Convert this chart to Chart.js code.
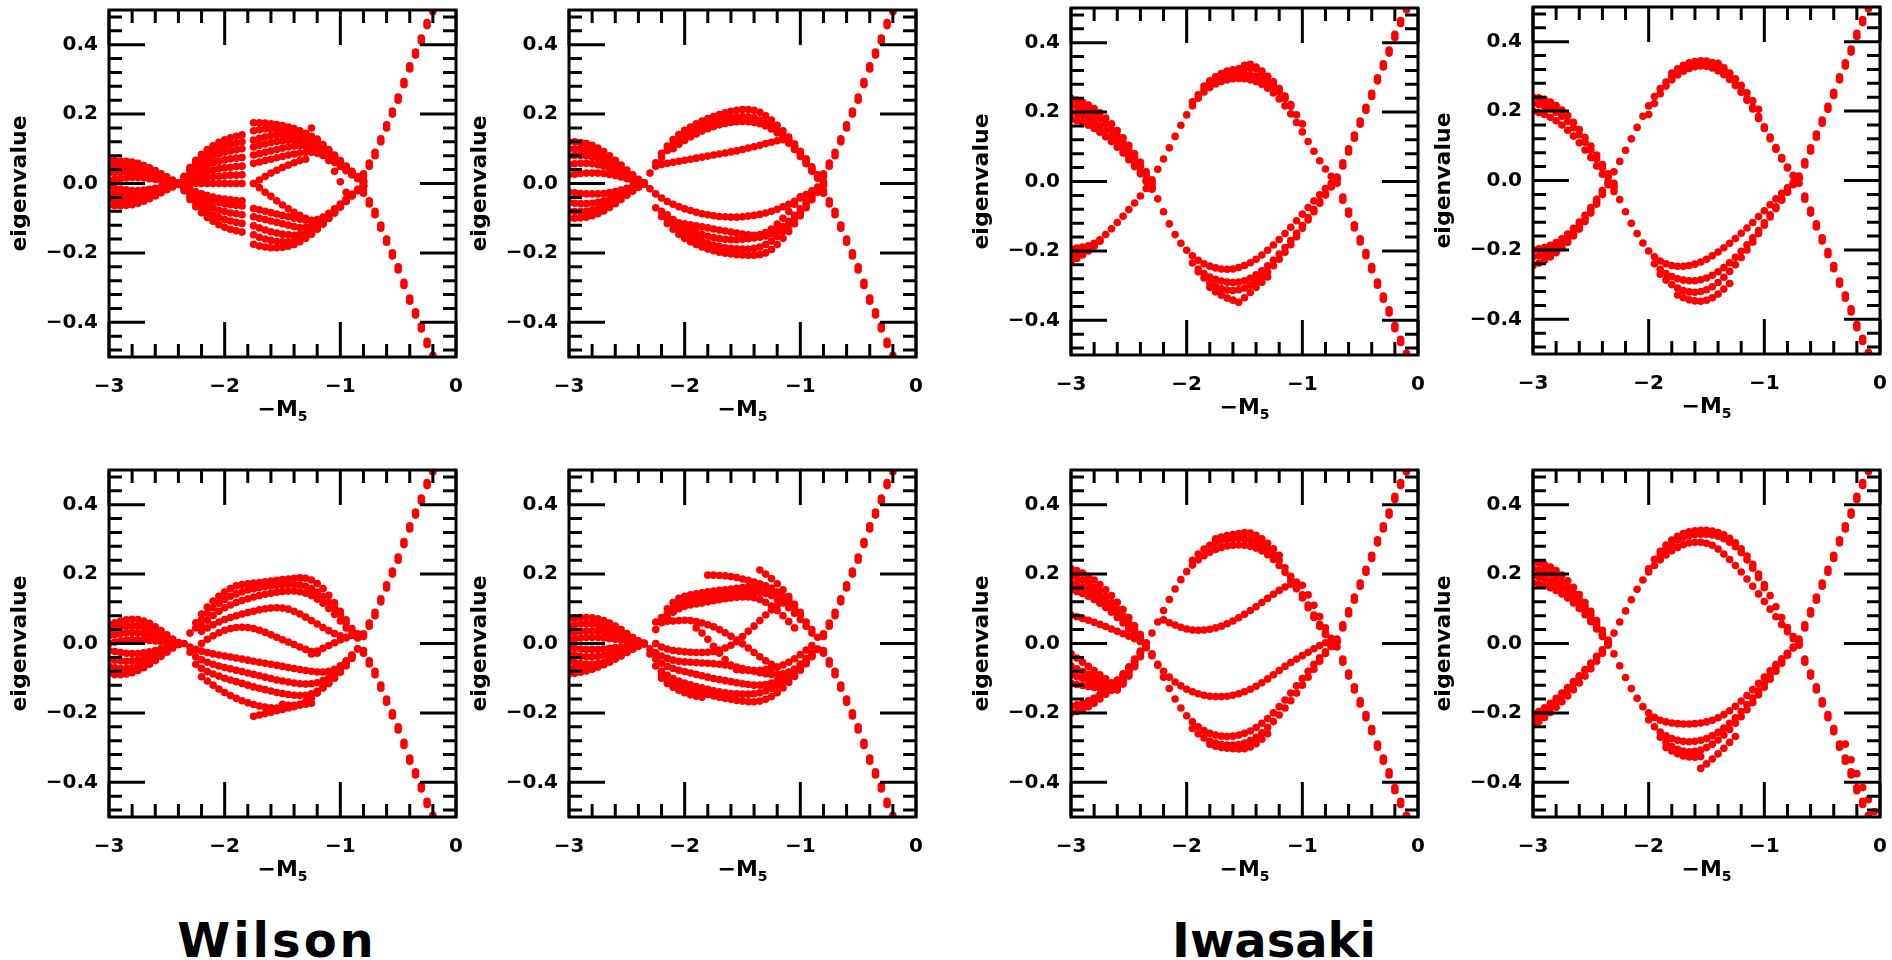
<!DOCTYPE html>
<html>
<head>
<meta charset="utf-8">
<script src="https://cdn.jsdelivr.net/npm/chart.js@4.4.1/dist/chart.umd.min.js"></script>
<style>
  html, body { margin: 0; padding: 0; background: #fff; width: 1892px; height: 960px; overflow: hidden; }
  canvas.panel { position: absolute; }
  .action { position: absolute; top: 916px; font: bold 48px "DejaVu Sans"; line-height: 48px; color: #000; transform: translateX(-50%); white-space: nowrap; }
</style>
</head>
<body>
<div class="action" style="left:277px; letter-spacing:3px">Wilson</div>
<div class="action" style="left:1274px">Iwasaki</div>

<script>
// -M5 sampling used by every eigenvalue flow
const M5 = [-3.0, -2.95, -2.9, -2.85, -2.8, -2.75, -2.7, -2.65, -2.6, -2.55, -2.5, -2.45, -2.4, -2.35, -2.3,
  -2.25, -2.2, -2.15, -2.1, -2.05, -2.0, -1.95, -1.9, -1.85, -1.8, -1.75, -1.7, -1.65, -1.6, -1.55, -1.5,
  -1.45, -1.4, -1.35, -1.3, -1.25, -1.2, -1.15, -1.1, -1.05, -1.0, -0.95, -0.9, -0.85, -0.8, -0.75, -0.7,
  -0.65, -0.6, -0.55, -0.5, -0.45, -0.4, -0.35, -0.3, -0.25, -0.2, -0.15, -0.1, -0.05]

const X_TICKS = [-3, -2, -1, 0]
const X_TICK_LABELS = ['\u22123', '\u22122', '\u22121', '0']
const X_MINOR = [-2.8, -2.6, -2.4, -2.2, -1.8, -1.6, -1.4, -1.2, -0.8, -0.6, -0.4, -0.2]
const Y_TICKS = [-0.4, -0.2, 0, 0.2, 0.4]
const Y_TICK_LABELS = ['\u22120.4', '\u22120.2', '0.0', '0.2', '0.4']
const Y_MINOR = [-0.48, -0.44, -0.36, -0.32, -0.28, -0.24, -0.16, -0.12, -0.08, -0.04,
  0.04, 0.08, 0.12, 0.16, 0.24, 0.28, 0.32, 0.36, 0.44, 0.48]

// each flow: [first -M5 value, eigenvalues on the M5 grid from there]
const WILSON_STEEP = [
  [-0.8, [0.02, 0.05, 0.08, 0.12, 0.16, 0.2, 0.24, 0.285, 0.33, 0.37, 0.41, 0.455, 0.495]],
  [-0.8, [0.028, 0.059, 0.09, 0.129, 0.169, 0.209, 0.249, 0.294, 0.339, 0.379, 0.419, 0.464, 0.504]],
  [-0.8, [-0.02, -0.05, -0.08, -0.12, -0.16, -0.2, -0.24, -0.285, -0.33, -0.37, -0.41, -0.455, -0.495]],
  [-0.8, [-0.028, -0.059, -0.09, -0.129, -0.169, -0.209, -0.249, -0.294, -0.339, -0.379, -0.419, -0.464, -0.504]]
]

const IWASAKI_STEEP = [
  [-0.7, [0.005, 0.045, 0.085, 0.125, 0.165, 0.205, 0.245, 0.29, 0.33, 0.37, 0.415, 0.455, 0.495]],
  [-0.7, [0.013, 0.054, 0.094, 0.134, 0.174, 0.214, 0.254, 0.299, 0.339, 0.379, 0.424, 0.464, 0.504]],
  [-0.65, [-0.045, -0.085, -0.125, -0.165, -0.205, -0.245, -0.29, -0.33, -0.37, -0.415, -0.455, -0.495]],
  [-0.65, [-0.054, -0.094, -0.134, -0.174, -0.214, -0.254, -0.299, -0.339, -0.379, -0.424, -0.464, -0.504]]
]

const WILSON_TOP_1 = [
  [-3.0, [0.067, 0.066, 0.065, 0.064, 0.062, 0.058, 0.052, 0.045, 0.037, 0.028, 0.019, 0.01, 0.002]],
  [-3.0, [0.05, 0.05, 0.049, 0.048, 0.046, 0.043, 0.039, 0.034, 0.028, 0.021, 0.014, 0.007, 0.001]],
  [-3.0, [0.03, 0.032, 0.033, 0.033, 0.032, 0.03, 0.027, 0.023, 0.019, 0.015, 0.01, 0.005, 0.0]],
  [-3.0, [0.01, 0.012, 0.014, 0.016, 0.017, 0.017, 0.016, 0.014, 0.012, 0.009, 0.006, 0.003, 0.0]],
  [-3.0, [-0.01, -0.013, -0.016, -0.018, -0.02, -0.02, -0.019, -0.017, -0.014, -0.011, -0.007, -0.004, -0.001]],
  [-3.0, [-0.028, -0.031, -0.033, -0.034, -0.034, -0.032, -0.029, -0.025, -0.021, -0.016, -0.011, -0.006, -0.001]],
  [-3.0, [-0.045, -0.047, -0.048, -0.048, -0.047, -0.044, -0.04, -0.035, -0.029, -0.022, -0.015, -0.008, -0.002]],
  [-3.0, [-0.063, -0.064, -0.064, -0.063, -0.061, -0.057, -0.051, -0.044, -0.036, -0.027, -0.018, -0.01, -0.003]],
  [-2.35, [0.021, 0.046, 0.067, 0.084, 0.098, 0.109, 0.119, 0.126, 0.132, 0.136, 0.14]],
  [-2.35, [0.018, 0.04, 0.058, 0.072, 0.084, 0.094, 0.102, 0.108, 0.113, 0.116, 0.12]],
  [-2.35, [0.015, 0.033, 0.048, 0.06, 0.07, 0.078, 0.085, 0.09, 0.094, 0.097, 0.1]],
  [-2.35, [0.011, 0.025, 0.036, 0.045, 0.053, 0.059, 0.064, 0.068, 0.071, 0.073, 0.075]],
  [-2.35, [0.008, 0.017, 0.024, 0.03, 0.035, 0.039, 0.043, 0.045, 0.047, 0.049, 0.05]],
  [-2.35, [0.004, 0.008, 0.012, 0.015, 0.018, 0.02, 0.021, 0.022, 0.024, 0.024, 0.025]],
  [-2.35, [0.0, 0.0, 0.0, 0.0, 0.0, 0.0, 0.0, 0.0, 0.0, 0.0, 0.0]],
  [-2.35, [-0.008, -0.017, -0.024, -0.03, -0.035, -0.039, -0.043, -0.045, -0.047, -0.049, -0.05]],
  [-2.35, [-0.01, -0.021, -0.031, -0.039, -0.046, -0.051, -0.055, -0.059, -0.061, -0.063, -0.065]],
  [-2.35, [-0.014, -0.03, -0.043, -0.054, -0.063, -0.07, -0.077, -0.081, -0.085, -0.087, -0.09]],
  [-2.35, [-0.017, -0.038, -0.055, -0.069, -0.081, -0.09, -0.098, -0.104, -0.108, -0.112, -0.115]],
  [-2.35, [-0.021, -0.046, -0.067, -0.084, -0.098, -0.109, -0.119, -0.126, -0.132, -0.136, -0.14]],
  [-1.75, [0.175, 0.175, 0.174, 0.172, 0.17, 0.167, 0.163, 0.158, 0.152, 0.145, 0.136, 0.125, 0.112, 0.098, 0.082, 0.066, 0.05, 0.035, 0.02, 0.008]],
  [-1.75, [0.152, 0.155, 0.157, 0.158, 0.158, 0.157, 0.155, 0.152, 0.147, 0.14, 0.131, 0.12, 0.107, 0.093, 0.078, 0.063, 0.048, 0.033, 0.019, 0.006]],
  [-1.75, [0.125, 0.13, 0.134, 0.138, 0.14, 0.141, 0.141, 0.14, 0.137, 0.132, 0.125, 0.115, 0.103, 0.09, 0.075, 0.06, 0.045, 0.031, 0.017, 0.005]],
  [-1.75, [0.105, 0.11, 0.114, 0.118, 0.121, 0.123, 0.125, 0.126, 0.125, 0.121, 0.115, 0.106, 0.095, 0.083, 0.07, 0.056, 0.042, 0.029, 0.016, 0.004]],
  [-1.75, [0.082, 0.086, 0.09, 0.094, 0.098, 0.102, 0.105, 0.108, 0.109, 0.108, 0.104, 0.097, 0.088, 0.077, 0.065, 0.052, 0.039, 0.027, 0.015, 0.003]],
  [-1.75, [0.058, 0.062, 0.066, 0.07, 0.074, 0.078, 0.082, 0.085, 0.088, 0.09, 0.09, 0.087, 0.081, 0.072, 0.061, 0.049, 0.037, 0.025, 0.014, 0.003]],
  [-1.75, [-0.175, -0.18, -0.183, -0.185, -0.185, -0.184, -0.181, -0.176, -0.168, -0.158, -0.146, -0.132, -0.117, -0.101, -0.085, -0.068, -0.052, -0.036, -0.021, -0.008]],
  [-1.75, [-0.148, -0.155, -0.16, -0.164, -0.167, -0.168, -0.168, -0.166, -0.161, -0.153, -0.143, -0.13, -0.116, -0.1, -0.084, -0.067, -0.051, -0.035, -0.02, -0.007]],
  [-1.75, [-0.122, -0.128, -0.134, -0.139, -0.143, -0.146, -0.148, -0.149, -0.147, -0.142, -0.134, -0.123, -0.11, -0.096, -0.081, -0.065, -0.049, -0.034, -0.019, -0.006]],
  [-1.75, [-0.096, -0.1, -0.104, -0.108, -0.112, -0.116, -0.12, -0.124, -0.127, -0.127, -0.123, -0.115, -0.104, -0.091, -0.077, -0.062, -0.047, -0.032, -0.018, -0.005]],
  [-1.75, [-0.072, -0.076, -0.08, -0.084, -0.088, -0.092, -0.096, -0.1, -0.103, -0.106, -0.107, -0.104, -0.097, -0.086, -0.073, -0.059, -0.045, -0.031, -0.017, -0.005]],
  [-1.75, [0.0, -0.012, -0.025, -0.037, -0.05, -0.062, -0.073, -0.083, -0.092, -0.1, -0.106]],
  [-1.75, [0.0, 0.01, 0.02, 0.03, 0.038, 0.046, 0.053, 0.06, 0.066, 0.07]],
  [-1.25, [0.16, 0.128, 0.097, 0.066, 0.035, 0.005, -0.025]]
]

const WILSON_TOP_2 = [
  [-3.0, [0.12, 0.12, 0.118, 0.115, 0.11, 0.102, 0.092, 0.08, 0.067, 0.053, 0.039, 0.025, 0.012, 0.002]],
  [-3.0, [0.1, 0.1, 0.099, 0.097, 0.093, 0.087, 0.079, 0.069, 0.058, 0.046, 0.034, 0.022, 0.011, 0.002]],
  [-3.0, [0.08, 0.081, 0.081, 0.08, 0.077, 0.072, 0.066, 0.058, 0.049, 0.039, 0.029, 0.019, 0.01, 0.001]],
  [-3.0, [0.055, 0.057, 0.058, 0.058, 0.057, 0.054, 0.05, 0.045, 0.038, 0.031, 0.023, 0.015, 0.008, 0.001]],
  [-3.0, [0.025, 0.027, 0.029, 0.03, 0.03, 0.03, 0.029, 0.026, 0.023, 0.019, 0.014, 0.009, 0.005, 0.0]],
  [-3.0, [-0.025, -0.027, -0.029, -0.03, -0.03, -0.03, -0.029, -0.026, -0.023, -0.019, -0.014, -0.009, -0.005, 0.0]],
  [-3.0, [-0.055, -0.057, -0.058, -0.058, -0.057, -0.054, -0.05, -0.045, -0.038, -0.031, -0.023, -0.015, -0.008, -0.001]],
  [-3.0, [-0.08, -0.081, -0.081, -0.08, -0.077, -0.072, -0.066, -0.058, -0.049, -0.039, -0.029, -0.019, -0.01, -0.001]],
  [-3.0, [-0.1, -0.1, -0.099, -0.097, -0.093, -0.087, -0.079, -0.069, -0.058, -0.046, -0.034, -0.022, -0.011, -0.002]],
  [-2.3, [0.03, 0.06, 0.087, 0.108, 0.127, 0.141, 0.153, 0.163, 0.172, 0.18, 0.187, 0.193, 0.199, 0.204, 0.208, 0.211, 0.213, 0.213, 0.211, 0.205, 0.195, 0.183, 0.168, 0.152, 0.134, 0.114, 0.093, 0.071, 0.048, 0.025, 0.005]],
  [-2.2, [0.075, 0.095, 0.112, 0.126, 0.138, 0.148, 0.157, 0.165, 0.172, 0.178, 0.183, 0.187, 0.19, 0.192, 0.193, 0.192, 0.189, 0.183, 0.175, 0.165, 0.153, 0.139, 0.123, 0.105, 0.085, 0.064, 0.042, 0.02]],
  [-2.1, [0.1, 0.113, 0.124, 0.134, 0.143, 0.151, 0.158, 0.164, 0.169, 0.173, 0.176, 0.178, 0.179, 0.178, 0.176, 0.172, 0.166, 0.157, 0.146, 0.132, 0.116, 0.098, 0.078, 0.057, 0.035]],
  [-2.25, [0.05, 0.055, 0.058, 0.061, 0.064, 0.067, 0.07, 0.073, 0.076, 0.079, 0.082, 0.085, 0.088, 0.091, 0.094, 0.098, 0.102, 0.106, 0.11, 0.115, 0.119, 0.123, 0.126, 0.125, 0.11, 0.09, 0.065, 0.04, 0.015]],
  [-2.35, [0.0, -0.015, -0.03, -0.042, -0.052, -0.06, -0.067, -0.073, -0.078, -0.083, -0.087, -0.09, -0.093, -0.095, -0.096, -0.097, -0.097, -0.096, -0.094, -0.092, -0.089, -0.085, -0.08, -0.074, -0.067, -0.06, -0.051, -0.042, -0.032, -0.021, -0.01, 0.0]],
  [-2.25, [-0.07, -0.095, -0.115, -0.132, -0.146, -0.158, -0.168, -0.176, -0.183, -0.189, -0.194, -0.198, -0.201, -0.203, -0.205, -0.206, -0.207, -0.207, -0.205, -0.2, -0.19, -0.176, -0.158, -0.138, -0.116, -0.093, -0.07, -0.047, -0.025, -0.005]],
  [-2.2, [-0.08, -0.1, -0.117, -0.131, -0.142, -0.152, -0.16, -0.167, -0.173, -0.178, -0.182, -0.185, -0.187, -0.188, -0.189, -0.189, -0.187, -0.183, -0.176, -0.166, -0.153, -0.138, -0.121, -0.102, -0.082, -0.061, -0.04, -0.018]],
  [-2.15, [-0.09, -0.104, -0.116, -0.126, -0.134, -0.141, -0.147, -0.152, -0.156, -0.159, -0.161, -0.162, -0.162, -0.161, -0.159, -0.157, -0.155, -0.151, -0.145, -0.136, -0.124, -0.109, -0.092, -0.073, -0.053, -0.032]],
  [-2.1, [-0.11, -0.113, -0.116, -0.119, -0.122, -0.125, -0.128, -0.131, -0.134, -0.137, -0.14, -0.143, -0.146, -0.148, -0.149, -0.147, -0.141, -0.131, -0.117, -0.1, -0.081, -0.06, -0.038]]
]

const WILSON_BOTTOM_1 = [
  [-3.0, [0.055, 0.06, 0.065, 0.068, 0.07, 0.069, 0.065, 0.058, 0.048, 0.037, 0.025, 0.013, 0.003]],
  [-3.0, [0.04, 0.044, 0.048, 0.05, 0.051, 0.05, 0.047, 0.042, 0.035, 0.027, 0.018, 0.01, 0.002]],
  [-3.0, [0.022, 0.026, 0.029, 0.031, 0.032, 0.031, 0.029, 0.026, 0.022, 0.017, 0.011, 0.006, 0.001]],
  [-3.0, [0.0, 0.004, 0.008, 0.01, 0.011, 0.011, 0.01, 0.009, 0.007, 0.005, 0.003, 0.001, 0.0]],
  [-3.0, [-0.02, -0.023, -0.026, -0.028, -0.029, -0.029, -0.027, -0.024, -0.02, -0.015, -0.01, -0.005, -0.001]],
  [-3.0, [-0.045, -0.048, -0.05, -0.051, -0.05, -0.048, -0.044, -0.039, -0.032, -0.025, -0.017, -0.009, -0.002]],
  [-3.0, [-0.065, -0.07, -0.072, -0.072, -0.07, -0.066, -0.06, -0.052, -0.043, -0.033, -0.022, -0.012, -0.003]],
  [-3.0, [-0.085, -0.09, -0.09, -0.088, -0.084, -0.078, -0.07, -0.06, -0.049, -0.037, -0.025, -0.013, -0.003]],
  [-2.3, [0.03, 0.06, 0.085, 0.105, 0.122, 0.136, 0.148, 0.158, 0.166, 0.17, 0.172, 0.174, 0.176, 0.178, 0.18, 0.182, 0.184, 0.186, 0.188, 0.189, 0.188, 0.183, 0.173, 0.158, 0.139, 0.117, 0.093, 0.068, 0.043, 0.02]],
  [-2.25, [0.045, 0.068, 0.087, 0.103, 0.116, 0.127, 0.136, 0.143, 0.149, 0.154, 0.158, 0.161, 0.164, 0.166, 0.168, 0.169, 0.17, 0.17, 0.169, 0.165, 0.158, 0.148, 0.135, 0.12, 0.102, 0.082, 0.06, 0.038, 0.016]],
  [-2.2, [0.05, 0.067, 0.081, 0.093, 0.103, 0.111, 0.118, 0.124, 0.129, 0.134, 0.138, 0.142, 0.145, 0.148, 0.15, 0.151, 0.151, 0.149, 0.145, 0.138, 0.128, 0.116, 0.101, 0.084, 0.065, 0.045, 0.024]],
  [-2.2, [0.035, 0.045, 0.054, 0.062, 0.069, 0.075, 0.08, 0.085, 0.089, 0.093, 0.097, 0.1, 0.102, 0.103, 0.102, 0.099, 0.093, 0.085, 0.076, 0.066, 0.056, 0.046, 0.037, 0.029, 0.022, 0.016]],
  [-2.2, [0.0, 0.012, 0.022, 0.031, 0.038, 0.043, 0.046, 0.047, 0.046, 0.043, 0.038, 0.032, 0.025, 0.018, 0.011, 0.004, -0.003, -0.01, -0.017, -0.023, -0.028]],
  [-1.25, [-0.03, -0.022, -0.014, -0.006, 0.002, 0.01, 0.018, 0.024, 0.028]],
  [-2.35, [0.0, -0.01, -0.017, -0.022, -0.026, -0.03, -0.033, -0.036, -0.039, -0.042, -0.045, -0.048, -0.051, -0.054, -0.057, -0.06, -0.063, -0.066, -0.069, -0.072, -0.075, -0.078, -0.08, -0.082, -0.082, -0.08, -0.074, -0.064, -0.05, -0.033, -0.015]],
  [-2.3, [-0.025, -0.038, -0.047, -0.054, -0.06, -0.065, -0.069, -0.073, -0.077, -0.081, -0.085, -0.089, -0.093, -0.097, -0.101, -0.105, -0.108, -0.111, -0.114, -0.116, -0.117, -0.116, -0.113, -0.107, -0.098, -0.086, -0.071, -0.054, -0.035]],
  [-2.25, [-0.06, -0.072, -0.081, -0.088, -0.094, -0.1, -0.105, -0.11, -0.115, -0.12, -0.125, -0.129, -0.133, -0.137, -0.141, -0.144, -0.147, -0.149, -0.15, -0.149, -0.145, -0.138, -0.128, -0.115, -0.1, -0.083, -0.064, -0.043]],
  [-2.2, [-0.096, -0.108, -0.12, -0.131, -0.141, -0.15, -0.158, -0.165, -0.171, -0.176, -0.18, -0.183, -0.185, -0.186]],
  [-1.75, [-0.21, -0.206, -0.202, -0.198, -0.194, -0.19, -0.186, -0.182, -0.178, -0.175, -0.172]],
  [-1.5, [-0.175, -0.178, -0.178, -0.175, -0.168, -0.157, -0.143, -0.127, -0.11, -0.092, -0.073, -0.054, -0.035, -0.016]]
]

const WILSON_BOTTOM_2 = [
  [-3.0, [0.07, 0.073, 0.075, 0.075, 0.074, 0.071, 0.066, 0.059, 0.05, 0.04, 0.029, 0.018, 0.008, 0.001]],
  [-3.0, [0.05, 0.054, 0.056, 0.057, 0.056, 0.054, 0.05, 0.045, 0.038, 0.03, 0.022, 0.014, 0.006, 0.0]],
  [-3.0, [0.03, 0.033, 0.035, 0.036, 0.036, 0.035, 0.033, 0.029, 0.025, 0.02, 0.014, 0.009, 0.004, 0.0]],
  [-3.0, [0.012, 0.014, 0.016, 0.017, 0.017, 0.017, 0.016, 0.014, 0.012, 0.01, 0.007, 0.004, 0.002, 0.0]],
  [-3.0, [-0.012, -0.014, -0.016, -0.017, -0.017, -0.017, -0.016, -0.014, -0.012, -0.01, -0.007, -0.004, -0.002, 0.0]],
  [-3.0, [-0.03, -0.034, -0.037, -0.038, -0.038, -0.037, -0.034, -0.03, -0.026, -0.021, -0.015, -0.009, -0.004, 0.0]],
  [-3.0, [-0.05, -0.055, -0.058, -0.06, -0.06, -0.058, -0.054, -0.048, -0.041, -0.033, -0.024, -0.015, -0.007, -0.001]],
  [-3.0, [-0.07, -0.072, -0.073, -0.072, -0.07, -0.066, -0.06, -0.053, -0.045, -0.036, -0.026, -0.016, -0.007, -0.001]],
  [-3.0, [-0.088, -0.086, -0.083, -0.079, -0.074, -0.068, -0.061, -0.053, -0.044, -0.035, -0.025, -0.016, -0.007, -0.001]],
  [-2.25, [0.04, 0.075, 0.1, 0.118, 0.13, 0.136, 0.14, 0.143, 0.146, 0.149, 0.151, 0.153, 0.155, 0.157, 0.159, 0.161, 0.163, 0.164, 0.164, 0.162, 0.157, 0.148, 0.136, 0.121, 0.103, 0.083, 0.062, 0.04, 0.018]],
  [-2.2, [0.06, 0.085, 0.103, 0.114, 0.121, 0.125, 0.128, 0.131, 0.134, 0.136, 0.138, 0.14, 0.142, 0.144, 0.146, 0.147, 0.148, 0.147, 0.144, 0.138, 0.129, 0.117, 0.103, 0.087, 0.069, 0.05, 0.03]],
  [-2.15, [0.075, 0.09, 0.1, 0.107, 0.111, 0.114, 0.117, 0.12, 0.123, 0.126, 0.129, 0.131, 0.133, 0.134, 0.134, 0.132, 0.127, 0.119, 0.108, 0.095, 0.08, 0.063, 0.045]],
  [-1.8, [0.197, 0.197, 0.196, 0.195, 0.193, 0.19, 0.186, 0.182, 0.177, 0.172, 0.166, 0.16]],
  [-1.35, [0.212, 0.2, 0.187, 0.172, 0.155, 0.135, 0.113, 0.09]],
  [-2.25, [0.062, 0.063, 0.064, 0.065, 0.066, 0.067, 0.066, 0.063, 0.059, 0.054, 0.048, 0.04, 0.031, 0.021, 0.01, -0.001, -0.013, -0.026, -0.038, -0.05, -0.06, -0.068]],
  [-2.25, [0.0, -0.01, -0.016, -0.02, -0.022, -0.024, -0.025, -0.026, -0.026, -0.025, -0.023, -0.019, -0.013, -0.005, 0.005, 0.02, 0.035, 0.05, 0.066, 0.082, 0.097, 0.11, 0.12, 0.127]],
  [-1.9, [0.045, 0.03, 0.012, -0.008, -0.028, -0.046, -0.062, -0.075]],
  [-1.55, [-0.075, -0.077, -0.078, -0.078, -0.077, -0.075, -0.072, -0.068, -0.062, -0.054, -0.044, -0.032, -0.019, -0.006]],
  [-2.35, [0.0, -0.015, -0.027, -0.036, -0.043, -0.048, -0.051, -0.053, -0.054, -0.055, -0.056, -0.057, -0.058, -0.06, -0.062, -0.065, -0.068, -0.072, -0.076, -0.08, -0.084, -0.087, -0.089, -0.089, -0.087, -0.082, -0.074, -0.063, -0.05, -0.034, -0.016]],
  [-2.3, [-0.03, -0.045, -0.057, -0.066, -0.072, -0.077, -0.081, -0.085, -0.089, -0.093, -0.097, -0.101, -0.104, -0.107, -0.11, -0.113, -0.116, -0.118, -0.12, -0.12, -0.118, -0.114, -0.107, -0.098, -0.087, -0.074, -0.059, -0.043, -0.027]],
  [-2.25, [-0.065, -0.08, -0.092, -0.101, -0.108, -0.114, -0.119, -0.124, -0.128, -0.132, -0.136, -0.139, -0.142, -0.144, -0.145, -0.146, -0.146, -0.145, -0.142, -0.137, -0.13, -0.121, -0.11, -0.097, -0.083, -0.068, -0.052, -0.035]],
  [-2.2, [-0.09, -0.102, -0.112, -0.12, -0.127, -0.133, -0.138, -0.143, -0.147, -0.151, -0.155, -0.158, -0.161, -0.164, -0.166, -0.168, -0.168, -0.166, -0.161, -0.153, -0.142, -0.128, -0.112, -0.095, -0.077, -0.058, -0.038, -0.017]],
  [-2.2, [-0.1, -0.115, -0.126, -0.135, -0.142, -0.148, -0.152, -0.155]]
]

const IWASAKI_TOP_1 = [
  [-3.0, [0.24, 0.235, 0.228, 0.22, 0.21, 0.198, 0.183, 0.166, 0.147, 0.126, 0.104, 0.08, 0.055, 0.028, 0.0]],
  [-3.0, [0.22, 0.216, 0.21, 0.202, 0.192, 0.18, 0.166, 0.15, 0.132, 0.112, 0.09, 0.067, 0.043, 0.018, -0.008]],
  [-3.0, [0.2, 0.196, 0.19, 0.182, 0.172, 0.16, 0.146, 0.13, 0.113, 0.094, 0.073, 0.051, 0.028, 0.004, -0.02]],
  [-3.0, [0.18, 0.176, 0.17, 0.162, 0.153, 0.142, 0.129, 0.115, 0.099, 0.082, 0.063, 0.043, 0.022, 0.0, -0.022]],
  [-3.0, [-0.23, -0.222, -0.212, -0.2, -0.186, -0.172]],
  [-3.0, [-0.215, -0.21, -0.203, -0.194, -0.183, -0.17]],
  [-3.0, [-0.195, -0.192, -0.189, -0.185, -0.178, -0.168, -0.153, -0.136, -0.118, -0.1, -0.081, -0.062, -0.042, -0.02, 0.005, 0.035, 0.065, 0.097, 0.13, 0.162, 0.192, 0.218, 0.24, 0.258, 0.271, 0.281, 0.288, 0.293, 0.296, 0.297, 0.296, 0.293, 0.288, 0.28, 0.269, 0.255, 0.238, 0.218, 0.195, 0.17, 0.143, 0.115, 0.087, 0.06, 0.036, 0.015, -0.005]],
  [-1.95, [0.23, 0.25, 0.266, 0.28, 0.29, 0.298, 0.304, 0.308, 0.31, 0.31, 0.308, 0.304, 0.297, 0.287, 0.274, 0.258, 0.239, 0.217, 0.192, 0.166]],
  [-1.85, [0.275, 0.29, 0.302, 0.311, 0.318, 0.322, 0.325, 0.327, 0.328, 0.325, 0.316, 0.303, 0.287, 0.268, 0.246, 0.222]],
  [-1.5, [0.335, 0.338, 0.33, 0.318, 0.302, 0.285]],
  [-2.3, [-0.015, -0.05, -0.087, -0.122, -0.153, -0.178, -0.198, -0.214, -0.227, -0.237, -0.244, -0.249, -0.252, -0.253, -0.252, -0.248, -0.242, -0.234, -0.224, -0.212, -0.198, -0.183, -0.167, -0.15, -0.132, -0.113, -0.094, -0.075, -0.056, -0.038, -0.02, -0.005, 0.01]],
  [-1.95, [-0.235, -0.252, -0.265, -0.275, -0.282, -0.287, -0.29, -0.291, -0.29, -0.286, -0.279, -0.269, -0.257, -0.243, -0.227, -0.209, -0.19, -0.17, -0.149, -0.127, -0.104, -0.081, -0.058, -0.035, -0.013]],
  [-1.9, [-0.26, -0.278, -0.292, -0.302, -0.309, -0.313, -0.314, -0.312, -0.307, -0.299, -0.288, -0.275, -0.26, -0.243, -0.224, -0.204, -0.182, -0.159, -0.135, -0.111, -0.087, -0.063, -0.039, -0.016]],
  [-1.8, [-0.305, -0.318, -0.328, -0.336, -0.342, -0.348, -0.335, -0.32, -0.305, -0.29, -0.275]]
]

const IWASAKI_TOP_2 = [
  [-3.0, [0.24, 0.238, 0.233, 0.226, 0.216, 0.203, 0.187, 0.168, 0.147, 0.124, 0.099, 0.073, 0.046, 0.019, -0.008]],
  [-3.0, [0.222, 0.219, 0.214, 0.207, 0.197, 0.185, 0.17, 0.152, 0.132, 0.11, 0.087, 0.062, 0.036, 0.01, -0.016]],
  [-3.0, [0.2, 0.196, 0.19, 0.182, 0.172, 0.16, 0.145, 0.128, 0.109, 0.088, 0.066, 0.042, 0.018, -0.007, -0.032]],
  [-3.0, [-0.2, -0.197, -0.193, -0.187, -0.179, -0.168, -0.154, -0.138, -0.12, -0.1, -0.078, -0.054, -0.029, -0.003]],
  [-3.0, [-0.22, -0.216, -0.211, -0.204, -0.195, -0.183, -0.168, -0.151, -0.131, -0.109, -0.085, -0.06, -0.034, -0.007]],
  [-3.0, [-0.245, -0.238, -0.23, -0.22, -0.208, -0.194, -0.178, -0.16, -0.14, -0.118, -0.094, -0.068, -0.04, -0.012]],
  [-2.3, [0.025, 0.055, 0.087, 0.12, 0.153, 0.185, 0.215, 0.242, 0.265, 0.284, 0.3, 0.312, 0.321, 0.327, 0.33, 0.331, 0.329, 0.324, 0.316, 0.305, 0.291, 0.274, 0.254, 0.231, 0.206, 0.179, 0.15, 0.12, 0.09, 0.062, 0.036, 0.013, -0.008]],
  [-2.0, [0.19, 0.222, 0.25, 0.272, 0.29, 0.304, 0.315, 0.323, 0.328, 0.331, 0.331, 0.328, 0.321, 0.31, 0.296, 0.279, 0.259, 0.236, 0.211, 0.184, 0.155, 0.125, 0.095, 0.066, 0.039, 0.015]],
  [-1.8, [0.31, 0.322, 0.332, 0.339, 0.343, 0.345, 0.344, 0.34, 0.333, 0.322, 0.308]],
  [-1.4, [0.338, 0.325, 0.31, 0.293, 0.274, 0.253, 0.23, 0.205]],
  [-2.3, [-0.02, -0.055, -0.09, -0.123, -0.153, -0.18, -0.203, -0.22, -0.232, -0.24, -0.245, -0.247, -0.247, -0.245, -0.241, -0.235, -0.227, -0.217, -0.206, -0.194, -0.181, -0.167, -0.152, -0.137, -0.121, -0.104, -0.087, -0.07, -0.053, -0.037, -0.021, -0.006, 0.008]],
  [-1.95, [-0.24, -0.256, -0.268, -0.277, -0.283, -0.287, -0.289, -0.289, -0.286, -0.281, -0.273, -0.263, -0.251, -0.237, -0.221, -0.204, -0.185, -0.165, -0.144, -0.122, -0.099, -0.076, -0.053, -0.031, -0.01]],
  [-1.9, [-0.27, -0.287, -0.3, -0.31, -0.317, -0.321, -0.322, -0.32, -0.315, -0.306, -0.294, -0.279, -0.262, -0.243, -0.222, -0.2, -0.177, -0.153, -0.129, -0.105, -0.081, -0.057, -0.034, -0.012]],
  [-1.75, [-0.33, -0.338, -0.344, -0.347, -0.348, -0.345, -0.338, -0.327, -0.313, -0.297]]
]

const IWASAKI_BOTTOM_1 = [
  [-3.0, [0.215, 0.21, 0.203, 0.194, 0.183, 0.17, 0.155, 0.138, 0.119, 0.098, 0.075, 0.051, 0.026, 0.0]],
  [-3.0, [0.195, 0.19, 0.183, 0.174, 0.163, 0.15, 0.135, 0.118, 0.1, 0.08, 0.059, 0.038, 0.017, -0.004]],
  [-3.0, [0.175, 0.17, 0.163, 0.155, 0.145, 0.133, 0.119, 0.104, 0.087, 0.069, 0.05, 0.03, 0.01, -0.01]],
  [-3.0, [0.155, 0.15, 0.144, 0.136, 0.127, 0.116, 0.104, 0.09, 0.075, 0.059, 0.042, 0.024, 0.006, -0.012]],
  [-3.0, [0.082, 0.077, 0.072, 0.067, 0.061, 0.055, 0.049, 0.042, 0.035, 0.028, 0.021, 0.014, 0.007, 0.0]],
  [-3.0, [-0.03, -0.042, -0.054, -0.066, -0.078, -0.09, -0.102, -0.113, -0.12, -0.1, -0.077, -0.052, -0.026, 0.0]],
  [-3.0, [-0.065, -0.073, -0.081, -0.089, -0.097, -0.105, -0.112, -0.119, -0.122, -0.104, -0.081, -0.056, -0.029, -0.002]],
  [-3.0, [-0.09, -0.095, -0.1, -0.105, -0.11, -0.115, -0.12, -0.125, -0.128, -0.11, -0.087, -0.061, -0.033, -0.005]],
  [-3.0, [-0.115, -0.118, -0.121, -0.124, -0.127, -0.13, -0.133, -0.135, -0.134, -0.117, -0.094, -0.067, -0.038, -0.008]],
  [-3.0, [-0.2, -0.196, -0.19, -0.182, -0.172, -0.16, -0.146, -0.13, -0.112, -0.092, -0.071, -0.049, -0.025, 0.0]],
  [-3.0, [-0.18, -0.177, -0.172, -0.165, -0.157, -0.147, -0.135, -0.121, -0.105, -0.087, -0.067, -0.045, -0.022, 0.002]],
  [-2.35, [0.0, 0.03, 0.062, 0.095, 0.127, 0.157, 0.184, 0.207, 0.226, 0.241, 0.253, 0.263, 0.271, 0.277, 0.281, 0.283, 0.284, 0.283, 0.28, 0.275, 0.267, 0.256, 0.242, 0.225, 0.205, 0.183, 0.158, 0.131, 0.103, 0.075, 0.049, 0.026, 0.007, -0.01]],
  [-1.95, [0.24, 0.258, 0.272, 0.283, 0.291, 0.297, 0.3, 0.302, 0.303, 0.302, 0.299, 0.293, 0.284, 0.272, 0.257, 0.239, 0.218, 0.194, 0.168, 0.14, 0.111, 0.082, 0.055, 0.03]],
  [-1.75, [0.302, 0.307, 0.311, 0.314, 0.317, 0.32, 0.318, 0.312, 0.302, 0.289, 0.273, 0.254]],
  [-2.2, [0.068, 0.06, 0.053, 0.047, 0.042, 0.039, 0.038, 0.039, 0.041, 0.045, 0.05, 0.057, 0.065, 0.074, 0.084, 0.095, 0.106, 0.118, 0.13, 0.142, 0.153, 0.163, 0.171, 0.177, 0.168, 0.14, 0.11, 0.078, 0.045, 0.015]],
  [-2.3, [-0.035, -0.06, -0.08, -0.097, -0.111, -0.122, -0.132, -0.139, -0.145, -0.149, -0.152, -0.153, -0.153, -0.152, -0.149, -0.145, -0.139, -0.132, -0.123, -0.113, -0.102, -0.09, -0.078, -0.066, -0.055, -0.045, -0.035, -0.025, -0.015, -0.006, 0.002]],
  [-2.35, [0.0, -0.03, -0.063, -0.097, -0.13, -0.16, -0.186, -0.208, -0.226, -0.24, -0.251, -0.259, -0.264, -0.267, -0.268, -0.267, -0.264, -0.259, -0.252, -0.242, -0.23, -0.216, -0.2, -0.182, -0.163, -0.143, -0.122, -0.101, -0.08, -0.06, -0.041, -0.024, -0.009, 0.005]],
  [-1.95, [-0.245, -0.26, -0.272, -0.281, -0.287, -0.291, -0.293, -0.293, -0.291, -0.287, -0.28, -0.27, -0.257, -0.242, -0.225, -0.206, -0.186, -0.165, -0.143, -0.12, -0.097, -0.074, -0.051, -0.029, -0.008]],
  [-1.8, [-0.29, -0.296, -0.3, -0.302, -0.303, -0.304, -0.303, -0.298, -0.289, -0.276, -0.26]]
]

const IWASAKI_BOTTOM_2 = [
  [-3.0, [0.235, 0.232, 0.227, 0.22, 0.21, 0.197, 0.181, 0.162, 0.141, 0.118, 0.093, 0.066, 0.038, 0.01]],
  [-3.0, [0.215, 0.212, 0.207, 0.2, 0.19, 0.178, 0.163, 0.146, 0.127, 0.106, 0.083, 0.059, 0.033, 0.006]],
  [-3.0, [0.195, 0.192, 0.187, 0.18, 0.171, 0.16, 0.146, 0.13, 0.112, 0.092, 0.071, 0.049, 0.026, 0.002]],
  [-3.0, [0.175, 0.172, 0.167, 0.161, 0.153, 0.143, 0.131, 0.117, 0.101, 0.083, 0.063, 0.042, 0.02, -0.002]],
  [-3.0, [-0.205, -0.196, -0.185, -0.172, -0.158, -0.143, -0.127, -0.11, -0.093, -0.075, -0.056, -0.037, -0.018, 0.0]],
  [-3.0, [-0.225, -0.212, -0.198, -0.183, -0.167, -0.15, -0.133, -0.115, -0.097, -0.078, -0.059, -0.039, -0.02, -0.001]],
  [-3.0, [-0.235, -0.225, -0.213, -0.199, -0.184, -0.168, -0.151, -0.133, -0.114, -0.094, -0.073, -0.051, -0.028, -0.005]],
  [-2.35, [0.0, 0.03, 0.062, 0.094, 0.126, 0.156, 0.183, 0.206, 0.225, 0.241, 0.255, 0.267, 0.277, 0.285, 0.29, 0.292, 0.292, 0.289, 0.283, 0.272, 0.258, 0.242, 0.225, 0.206, 0.186, 0.165, 0.143, 0.121, 0.099, 0.077, 0.055, 0.034, 0.014, -0.005]],
  [-2.0, [0.215, 0.243, 0.266, 0.284, 0.298, 0.309, 0.317, 0.322, 0.325, 0.326, 0.326, 0.324, 0.32, 0.313, 0.303, 0.29, 0.273, 0.252, 0.228, 0.2, 0.17, 0.138, 0.106, 0.075, 0.046, 0.02]],
  [-1.9, [0.255, 0.273, 0.287, 0.298, 0.306, 0.311, 0.314, 0.315, 0.315, 0.313, 0.309, 0.302, 0.292, 0.279, 0.262, 0.241, 0.217, 0.19, 0.161]],
  [-2.35, [0.0, -0.03, -0.064, -0.098, -0.13, -0.158, -0.182, -0.2, -0.213, -0.221, -0.226, -0.229, -0.231, -0.232, -0.232, -0.231, -0.229, -0.226, -0.221, -0.214, -0.205, -0.194, -0.181, -0.166, -0.15, -0.133, -0.115, -0.097, -0.079, -0.061, -0.044, -0.028, -0.013, 0.0]],
  [-2.0, [-0.22, -0.24, -0.255, -0.266, -0.274, -0.279, -0.282, -0.283, -0.282, -0.279, -0.274, -0.266, -0.256, -0.244, -0.23, -0.214, -0.196, -0.177, -0.157, -0.136, -0.114, -0.092, -0.07, -0.049, -0.029, -0.01]],
  [-1.9, [-0.27, -0.285, -0.297, -0.305, -0.31, -0.312, -0.311, -0.307, -0.3, -0.29, -0.278, -0.264, -0.248, -0.23, -0.211, -0.191, -0.17, -0.148, -0.126, -0.103, -0.08, -0.057, -0.034]],
  [-1.55, [-0.36, -0.347, -0.333, -0.318, -0.302, -0.285, -0.268]],
  [-1.85, [-0.3, -0.31, -0.318, -0.324, -0.327, -0.328, -0.326]],
  [-0.3, [-0.29, -0.335, -0.375, -0.415, -0.45, -0.485]]
]

const PANELS = [
  { left: 109, top: 10, flows: [...WILSON_STEEP, ...WILSON_TOP_1] },
  { left: 569, top: 10, flows: [...WILSON_STEEP, ...WILSON_TOP_2] },
  { left: 1071, top: 8, flows: [...IWASAKI_STEEP, ...IWASAKI_TOP_1] },
  { left: 1533, top: 7, flows: [...IWASAKI_STEEP, ...IWASAKI_TOP_2] },
  { left: 109, top: 470, flows: [...WILSON_STEEP, ...WILSON_BOTTOM_1] },
  { left: 569, top: 470, flows: [...WILSON_STEEP, ...WILSON_BOTTOM_2] },
  { left: 1071, top: 470, flows: [...IWASAKI_STEEP, ...IWASAKI_BOTTOM_1] },
  { left: 1533, top: 470, flows: [...IWASAKI_STEEP, ...IWASAKI_BOTTOM_2] }
]

const PLOT = 347
const PAD = { left: 109, top: 10, right: 14, bottom: 83 }
const FONT = '"DejaVu Sans", sans-serif'

function toPoints(flows) {
  const pts = []
  for (const [from, ys] of flows) {
    const start = M5.findIndex(v => Math.abs(v - from) < 1e-9)
    ys.forEach((y, k) => {
      if (start + k < M5.length) pts.push({ x: M5[start + k], y: y })
    })
  }
  return pts
}

// pgplot-style box: inward ticks on all four sides, labels and titles
const boxPlugin = {
  id: 'box',
  afterDatasetsDraw(chart) {
    const { ctx, chartArea: a, scales } = chart
    const xs = scales.x
    const ys = scales.y
    ctx.save()
    ctx.strokeStyle = '#000'
    ctx.lineWidth = 3
    ctx.lineCap = 'butt'
    ctx.beginPath()
    const tickX = (v, len) => {
      const px = xs.getPixelForValue(v)
      ctx.moveTo(px, a.bottom); ctx.lineTo(px, a.bottom - len)
      ctx.moveTo(px, a.top); ctx.lineTo(px, a.top + len)
    }
    const tickY = (v, len) => {
      const py = ys.getPixelForValue(v)
      ctx.moveTo(a.left, py); ctx.lineTo(a.left + len, py)
      ctx.moveTo(a.right, py); ctx.lineTo(a.right - len, py)
    }
    X_TICKS.forEach(v => tickX(v, 35))
    X_MINOR.forEach(v => tickX(v, 13))
    Y_TICKS.forEach(v => tickY(v, 36))
    Y_MINOR.forEach(v => tickY(v, 13))
    ctx.stroke()
    ctx.strokeRect(a.left, a.top, a.right - a.left, a.bottom - a.top)

    ctx.fillStyle = '#000'
    ctx.font = 'bold 20px ' + FONT
    ctx.textBaseline = 'middle'
    ctx.textAlign = 'center'
    X_TICKS.forEach((v, i) => ctx.fillText(X_TICK_LABELS[i], xs.getPixelForValue(v), a.bottom + 30))
    ctx.textAlign = 'right'
    Y_TICKS.forEach((v, i) => ctx.fillText(Y_TICK_LABELS[i], a.left - 11, ys.getPixelForValue(v)))

    // y title
    ctx.save()
    ctx.translate(a.left - 89, (a.top + a.bottom) / 2)
    ctx.rotate(-Math.PI / 2)
    ctx.textAlign = 'center'
    ctx.font = 'bold 22px ' + FONT
    ctx.fillText('eigenvalue', 0, 0)
    ctx.restore()

    // x title: -M with subscript 5
    const main = '\u2212M'
    ctx.font = 'bold 22px ' + FONT
    const wMain = ctx.measureText(main).width
    ctx.font = 'bold 14px ' + FONT
    const wSub = ctx.measureText('5').width
    const x0 = (a.left + a.right) / 2 - (wMain + wSub) / 2
    const yT = a.bottom + 53
    ctx.textAlign = 'left'
    ctx.font = 'bold 22px ' + FONT
    ctx.fillText(main, x0, yT)
    ctx.font = 'bold 14px ' + FONT
    ctx.fillText('5', x0 + wMain, yT + 7)
    ctx.restore()
  }
}

PANELS.forEach(p => {
  const canvas = document.createElement('canvas')
  canvas.className = 'panel'
  canvas.width = PAD.left + PLOT + PAD.right
  canvas.height = PAD.top + PLOT + PAD.bottom
  canvas.style.left = (p.left - PAD.left) + 'px'
  canvas.style.top = (p.top - PAD.top) + 'px'
  document.body.appendChild(canvas)

  new Chart(canvas.getContext('2d'), {
    type: 'scatter',
    data: {
      datasets: [
        {
          data: toPoints(p.flows),
          pointRadius: 3.8,
          pointHoverRadius: 3.8,
          pointBackgroundColor: '#ff0000',
          pointBorderWidth: 0,
          showLine: false
        }
      ]
    },
    options: {
      responsive: false,
      animation: false,
      events: [],
      layout: { padding: PAD },
      plugins: {
        legend: { display: false },
        tooltip: { enabled: false }
      },
      scales: {
        x: { type: 'linear', min: -3, max: 0, display: false },
        y: { type: 'linear', min: -0.5, max: 0.5, display: false }
      }
    },
    plugins: [boxPlugin]
  })
})
</script>
</body>
</html>
